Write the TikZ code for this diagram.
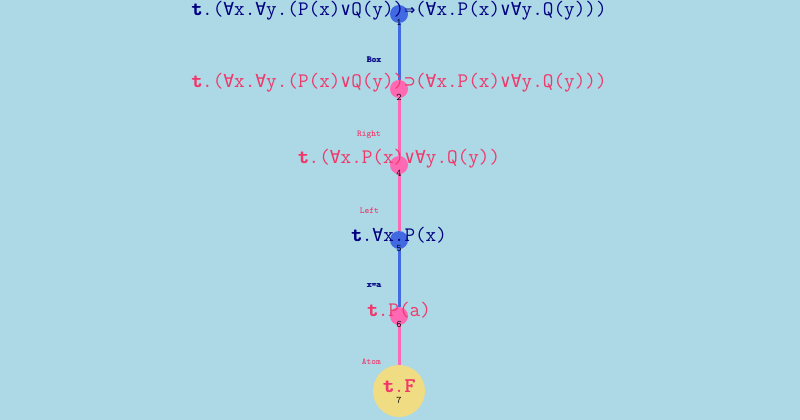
\documentclass[tikz,border=0pt]{standalone}
\usepackage{fontspec}
\newfontfamily\symfont[Scale=0.87]{DejaVu Sans Mono}
\usepackage{tikz}
\usetikzlibrary{positioning}

\definecolor{bgblue}{HTML}{ADD8E6}
\definecolor{nodeblue}{HTML}{4169E1}
\definecolor{nodepink}{HTML}{FF69B4}
\definecolor{leafyellow}{HTML}{F0DC82}
\definecolor{navytext}{HTML}{000080}
\definecolor{pinktext}{HTML}{F0386A}

\newcommand{\fa}{{\symfont\char"2200}}
\newcommand{\vo}{{\symfont\char"2228}}
\newcommand{\imp}{{\symfont\bfseries\char"21D2}}
\newcommand{\hk}{{\symfont\char"2283}}
\newcommand{\heavy}[1]{\rlap{#1}\kern0.8pt#1\kern-0.8pt}
\newcommand{\tb}{{\bfseries\heavy{t}}.}

\begin{document}
\begin{tikzpicture}[
            x=1pt, y=-1pt,
            main node/.style={circle,inner sep=0pt,minimum size=18pt},
            leaf node/.style={circle,inner sep=0pt,minimum size=52pt,fill=leafyellow},
            formula/.style={font=\ttfamily\fontsize{20.6}{20.6}\selectfont,inner sep=0pt},
            rule/.style={font=\ttfamily\bfseries\fontsize{9}{9}\selectfont,inner sep=0pt,anchor=east},
            num/.style={font=\ttfamily\fontsize{10}{10}\selectfont,inner sep=0pt},
            branch/.style={line width=3pt},
            ]
            \useasboundingbox[fill=bgblue] (0,0) rectangle (800,420);
            \def\X{399}

            \node[main node, fill=nodeblue] (1) at (\X,14) {};
            \node[main node, fill=nodepink] (2) at (\X,89) {};
            \node[main node, fill=nodepink] (4) at (\X,165) {};
            \node[main node, fill=nodeblue] (5) at (\X,240) {};
            \node[main node, fill=nodepink] (6) at (\X,316) {};
            \node[leaf node] (7) at (\X,391) {};

            \draw[branch, nodeblue] (1) -- (2);
            \draw[branch, nodepink] (2) -- (4);
            \draw[branch, nodepink] (4) -- (5);
            \draw[branch, nodeblue] (5) -- (6);
            \draw[branch, nodepink] (6) -- (7);

            \node[rule, navytext] (r12) at (381,60) {\heavy{Box}};
            \node[rule, pinktext] (r24) at (381,135) {Right};
            \node[rule, pinktext] (r45) at (379,211) {Left};
            \node[rule, navytext] (r56) at (381,286) {\heavy{x=a}};
            \node[rule, pinktext] (r67) at (381,362) {Atom};

            \node[formula, navytext] (f1) at ([yshift=3pt]1) {\tb(\fa x.\fa y.(P(x)\vo Q(y))\imp(\fa x.P(x)\vo\fa y.Q(y)))};
            \node[formula, pinktext] (f2) at ([yshift=6pt]2) {\tb(\fa x.\fa y.(P(x)\vo Q(y))\hk(\fa x.P(x)\vo\fa y.Q(y)))};
            \node[formula, pinktext] (f4) at ([yshift=6pt]4) {\tb(\fa x.P(x)\vo\fa y.Q(y))};
            \node[formula, navytext] (f5) at ([yshift=5pt]5) {\tb\fa x.P(x)};
            \node[formula, pinktext] (f6) at ([yshift=6pt]6) {\tb P(a)};
            \node[formula, pinktext] (f7) at ([yshift=5pt]7) {\tb\heavy{F}};

            \node[num] (n1) at ([yshift=-8pt]1) {1};
            \node[num] (n2) at ([yshift=-8pt]2) {2};
            \node[num] (n4) at ([yshift=-8pt]4) {4};
            \node[num] (n5) at ([yshift=-8pt]5) {5};
            \node[num] (n6) at ([yshift=-8pt]6) {6};
            \node[num] (n7) at ([yshift=-9pt]7) {7};
        \end{tikzpicture}
\end{document}
